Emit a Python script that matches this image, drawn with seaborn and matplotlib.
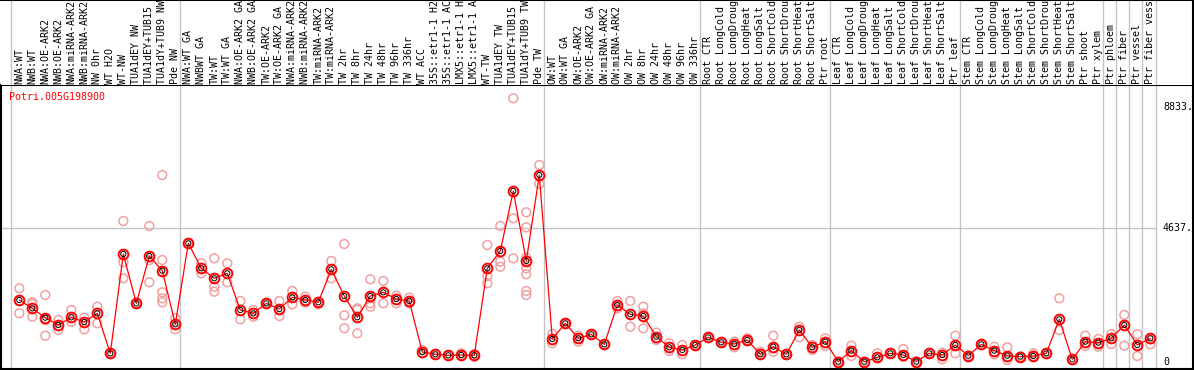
import numpy as np
import pandas as pd
import matplotlib
matplotlib.use("Agg")
import matplotlib.pyplot as plt
import seaborn as sns

# ---------------- data ----------------
gene = "Potri.005G198900"

labels = [
    "NWA:WT", "NWB:WT", "NWA:OE-ARK2", "NWB:OE-ARK2", "NWA:miRNA-ARK2", "NWB:miRNA-ARK2",
    "NW 0hr", "WT H2O", "WT-NW", "TUA1dEY NW", "TUA1dEY+TUB15 NW", "TUA1dY+TUB9 NW", "Pde NW",
    "NWA:WT GA", "NWBWT GA", "TW:WT", "TW:WT GA", "NWA:OE-ARK2 GA", "NWB:OE-ARK2 GA",
    "TW:OE-ARK2", "TW:OE-ARK2 GA", "NWA:miRNA-ARK2 GA", "NWB:miRNA-ARK2 GA", "TW:miRNA-ARK2",
    "TW:miRNA-ARK2 GA", "TW 2hr", "TW 8hr", "TW 24hr", "TW 48hr", "TW 96hr", "TW 336hr",
    "WT ACC", "35S::etr1-1 H2O", "35S::etr1-1 ACC", "LMX5::etr1-1 H2O", "LMX5::etr1-1 ACC",
    "WT-TW", "TUA1dEY TW", "TUA1dEY+TUB15 TW", "TUA1dY+TUB9 TW", "Pde TW",
    "OW:WT", "OW:WT GA", "OW:OE-ARK2", "OW:OE-ARK2 GA", "OW:miRNA-ARK2", "OW:miRNA-ARK2 GA",
    "OW 2hr", "OW 8hr", "OW 24hr", "OW 48hr", "OW 96hr", "OW 336hr",
    "Root CTR", "Root LongCold", "Root LongDrought", "Root LongHeat", "Root LongSalt",
    "Root ShortCold", "Root ShortDrought", "Root ShortHeat", "Root ShortSalt", "Ptr root",
    "Leaf CTR", "Leaf LongCold", "Leaf LongDrought", "Leaf LongHeat", "Leaf LongSalt",
    "Leaf ShortCold", "Leaf ShortDrought", "Leaf ShortHeat", "Leaf ShortSalt", "Ptr leaf",
    "Stem CTR", "Stem LongCold", "Stem LongDrought", "Stem LongHeat", "Stem LongSalt",
    "Stem ShortCold", "Stem ShortDrought", "Stem ShortHeat", "Stem ShortSalt", "Ptr shoot",
    "Ptr xylem", "Ptr phloem", "Ptr fiber", "Ptr vessel", "Ptr fiber vessel",
]

group_sizes = [13, 28, 12, 10, 10, 11, 1, 1, 1, 1]

means = [
    2148, 1859, 1536, 1282, 1547, 1386, 1686, 300, 3741, 2032, 3672, 3164, 1305,
    4111, 3245, 2899, 3072, 1801, 1686, 2032, 1836, 2240, 2148, 2067, 3210, 2286,
    1547, 2286, 2413, 2182, 2113, 346, 266, 231, 242, 231, 3245, 3845, 5923, 3499, 6478,
    797, 1340, 820, 958, 612, 1974, 1651, 1593, 877, 508, 416, 589,
    854, 681, 624, 762, 266, 531, 266, 1108, 508, 704,
    10, 393, 10, 160, 300, 242, 15, 300, 242, 589,
    219, 612, 393, 219, 185, 208, 300, 1478, 92, 704, 670,
    820, 1282, 589, 820,
]

replicates = [
    [2553, 1687], [2068, 2009, 1569], [2321, 1455, 911], [1455, 1108], [1801, 1396],
    [1535, 1133], [1916, 1341], [300, 300], [4884, 3454, 2899], [2032, 2032],
    [4711, 3533, 2761], [6478, 3533, 2414, 2207, 2068], [1514, 1133],
    [4111, 4111], [3419, 3073], [3592, 2608, 2435], [3419, 2761], [2113, 1479],
    [1801, 1569], [2032, 2032], [2113, 1593], [2459, 1999], [2262, 2054], [1999, 2067],
    [3499, 2899], [4088, 1618, 1167], [1860, 1801, 994], [2865, 2033, 1916], [2806, 2033],
    [2297, 2033], [2227, 2033], [416, 301], [266, 266], [231, 231], [301, 242], [267, 184],
    [4053, 2979, 2726], [4711, 3474, 3301], [9135, 4978, 3592],
    [5186, 4666, 3613, 3246, 3038, 2459, 2321], [6824, 6166],
    [970, 648], [1340, 1340], [911, 703], [958, 958], [612, 612], [2113, 1860],
    [2113, 1223], [1916, 1687, 1167], [1015, 762], [648, 381], [589, 267], [589, 589],
    [854, 854], [681, 681], [703, 509], [821, 762], [357, 266], [911, 357], [266, 266],
    [1223, 856], [589, 416], [821, 554],
    [10, 10], [565, 208], [10, 10], [301, 160], [300, 300], [450, 184], [15, 15],
    [300, 300], [322, 94], [911, 301],
    [219, 219], [612, 612], [530, 267], [509, 69], [185, 185], [301, 208], [300, 300],
    [2207, 1108], [92, 92], [911, 554], [797, 530],
    [970, 624], [1628, 565], [960, 208], [786, 613],
]

ytick_values = [0, 4637, 8833]
ytick_labels = ["0", "4637.", "8833."]

# ---------------- frames ----------------
idx = np.arange(len(labels))
mean_df = pd.DataFrame({"idx": idx, "value": means})
rep_df = pd.DataFrame(
    [(i, v) for i, reps in enumerate(replicates) for v in reps], columns=["idx", "value"]
)

sns.set_theme(style="white")
plt.rcParams["font.family"] = ["DejaVu Sans Mono", "DejaVu Sans"]

W, H = 1194, 370
fig = plt.figure(figsize=(W / 100, H / 100), dpi=100)
fig.patch.set_facecolor("white")


def box(x0, y0, x1, y1):
    return [x0 / W, 1 - y1 / H, (x1 - x0) / W, (y1 - y0) / H]


def px2i(px):
    return (px - 19.3) / 13.0


def px2v(py):
    return (362 - py) * 34.64


xlim = (px2i(1), px2i(1193))
ax = fig.add_axes(box(1, 85, 1193, 369))
ax_top = fig.add_axes(box(1, 0, 1193, 85))
for a in (ax, ax_top):
    a.set_xlim(*xlim)
    a.set_xticks([])
    a.set_yticks([])
    a.set_facecolor("white")
ax.set_ylim(px2v(369), px2v(85))
ax_top.set_ylim(85, 0)

for s in ax.spines.values():
    s.set_color("black")
    s.set_linewidth(1.5)
ax_top.spines["left"].set_visible(False)
ax_top.spines["bottom"].set_visible(False)
for s in ("top", "right"):
    ax_top.spines[s].set_color("black")
    ax_top.spines[s].set_linewidth(1.5)

grid_c = "#c4c4c4"
starts = np.cumsum([0] + group_sizes[:-1])
bounds = list(starts - 0.65) + [len(labels) - 1 + 0.45]
for b in bounds:
    ax.axvline(b, color=grid_c, lw=1.0, zorder=1)
    ax_top.axvline(b, color=grid_c, lw=1.0, zorder=1)
ax.hlines(4637, xlim[0], bounds[-1], color=grid_c, lw=1.0, zorder=1)

# replicates
sc = sns.scatterplot(data=rep_df, x="idx", y="value", ax=ax, s=40, marker="o",
                     legend=False, zorder=2)
coll = ax.collections[-1]
coll.set_facecolor("none")
coll.set_edgecolor("#f0a0a0")
coll.set_linewidth(1.1)

# mean line
sns.lineplot(data=mean_df, x="idx", y="value", ax=ax, color="red", lw=0.9,
             marker="o", ms=7, mfc="none", mec="red", mew=1.4, zorder=3)
sns.scatterplot(data=mean_df, x="idx", y="value", ax=ax, s=14, marker="o",
                legend=False, zorder=4)
c2 = ax.collections[-1]
c2.set_facecolor("none")
c2.set_edgecolor("black")
c2.set_linewidth(0.7)
ax.set_xlabel("")
ax.set_ylabel("")

fs = 7.2
for i, lab in enumerate(labels):
    ax_top.text(i, 83.5, lab, rotation=90, ha="center", va="bottom",
                fontsize=fs, color="black")

for v, t in zip(ytick_values, ytick_labels):
    ax.text(px2i(1163), v, t, ha="left", va="center", fontsize=fs, color="black",
            clip_on=False)

fig.text(9 / W, 1 - 97 / H, gene, ha="left", va="center", fontsize=fs, color="red")

fig.savefig("out.png", dpi=100)
